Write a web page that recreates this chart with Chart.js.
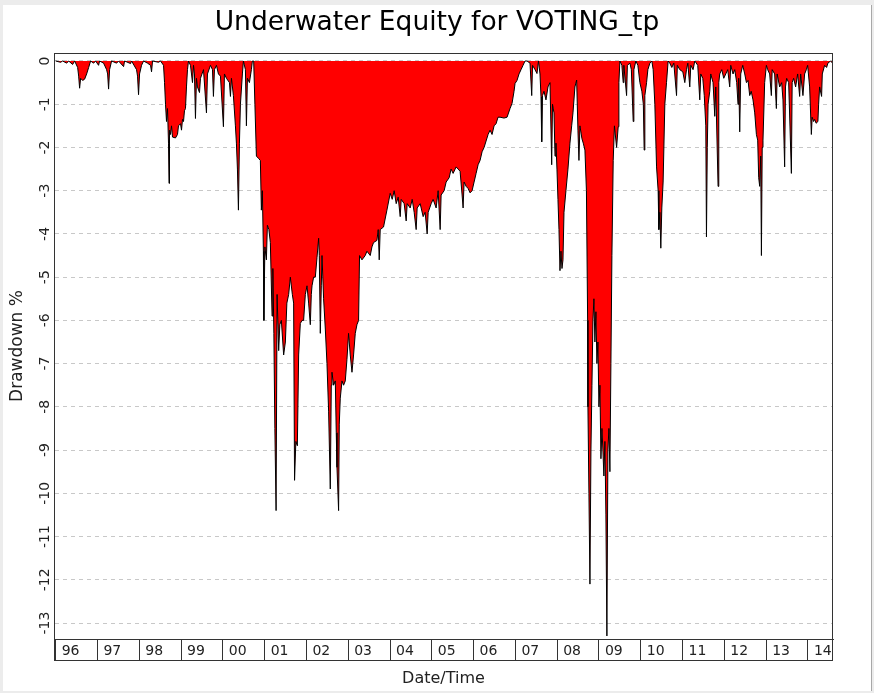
<!DOCTYPE html>
<html>
<head>
<meta charset="utf-8">
<title>Underwater Equity</title>
<script src="https://cdn.jsdelivr.net/npm/chart.js@4"></script>
<style>
  html, body { margin: 0; padding: 0; background: #ececec; }
  #panel { position: absolute; left: 3px; top: 5px; width: 868px; height: 686px; background: #fff; border-right: 1px solid #a8a8a8; }
  canvas { display: block; }
</style>
</head>
<body>
<div id="panel"><canvas id="underwaterChart" width="868" height="686"></canvas></div>
<script>
const yearTicks = [1996,1997,1998,1999,2000,2001,2002,2003,2004,2005,2006,2007,2008,2009,2010,2011,2012,2013,2014];
const yearLabels = ['96','97','98','99','00','01','02','03','04','05','06','07','08','09','10','11','12','13','14'];
const drawdownTicks = [0,-1,-2,-3,-4,-5,-6,-7,-8,-9,-10,-11,-12,-13];

// decimal year of each sample
const dates = [
  1996.000,1996.119,1996.167,1996.263,1996.311,1996.406,1996.454,1996.526,1996.550,1996.573,
  1996.597,1996.645,1996.693,1996.741,1996.789,1996.836,1996.908,1996.956,1997.027,1997.051,
  1997.147,1997.219,1997.243,1997.266,1997.290,1997.338,1997.458,1997.505,1997.625,1997.649,
  1997.792,1997.816,1997.935,1997.959,1997.983,1998.007,1998.055,1998.103,1998.198,1998.270,
  1998.294,1998.318,1998.461,1998.509,1998.581,1998.605,1998.628,1998.652,1998.676,1998.700,
  1998.712,1998.724,1998.748,1998.772,1998.796,1998.867,1998.915,1998.939,1998.987,1999.011,
  1999.035,1999.059,1999.082,1999.106,1999.130,1999.154,1999.178,1999.226,1999.274,1999.298,
  1999.321,1999.345,1999.369,1999.393,1999.441,1999.465,1999.537,1999.608,1999.632,1999.704,
  1999.752,1999.775,1999.799,1999.847,1999.895,1999.943,2000.014,2000.038,2000.086,2000.158,
  2000.182,2000.206,2000.253,2000.301,2000.325,2000.349,2000.373,2000.397,2000.421,2000.468,
  2000.492,2000.540,2000.564,2000.588,2000.636,2000.683,2000.707,
  2000.738,2000.767,2000.803,2000.851,2000.898,2000.922,2000.946,2000.970,2000.982,2001.006,
  2001.042,2001.066,2001.102,2001.137,2001.178,2001.197,2001.221,2001.245,2001.274,2001.298,
  2001.336,2001.364,2001.400,2001.455,2001.496,2001.532,2001.575,2001.615,2001.663,2001.694,
  2001.716,2001.747,2001.783,2001.814,2001.854,2001.895,2001.933,2001.974,2002.014,2002.053,
  2002.093,2002.117,2002.134,2002.172,2002.213,2002.253,2002.292,2002.308,2002.332,2002.356,
  2002.373,2002.411,2002.452,2002.492,2002.531,2002.571,2002.595,2002.612,2002.650,2002.691,
  2002.714,2002.731,2002.770,2002.786,2002.810,2002.851,2002.889,2002.930,2002.970,2003.008,
  2003.049,2003.090,2003.128,2003.169,2003.209,2003.248,2003.271,2003.329,2003.407,2003.448,
  2003.527,2003.568,2003.606,2003.687,2003.718,2003.742,2003.766,2003.845,2003.926,2004.005,
  2004.053,2004.100,2004.148,2004.196,2004.244,2004.268,2004.339,2004.387,2004.411,2004.483,
  2004.531,2004.578,2004.626,2004.650,2004.722,2004.793,2004.841,2004.889,2004.913,2004.985,
  2005.032,2005.104,2005.152,2005.200,2005.223,2005.295,2005.343,2005.415,2005.462,2005.510,
  2005.582,2005.630,2005.677,2005.725,2005.749,2005.773,2005.821,2005.869,2005.916,2005.964,
  2006.012,2006.060,2006.108,2006.155,2006.203,2006.251,2006.299,2006.347,2006.394,2006.442,
  2006.490,2006.538,2006.585,2006.633,2006.729,2006.801,2006.872,2006.920,2006.968,2006.992,
  2007.039,2007.087,2007.135,2007.183,2007.231,
  2007.278,2007.350,2007.391,2007.410,2007.470,2007.517,2007.553,2007.589,2007.613,2007.630,
  2007.649,2007.685,2007.732,2007.780,2007.828,2007.869,2007.888,2007.924,2007.948,2007.971,
  2007.995,2008.019,2008.043,2008.067,2008.091,2008.115,2008.139,2008.163,2008.210,2008.258,
  2008.306,2008.347,2008.378,2008.425,2008.466,2008.497,2008.521,2008.545,2008.593,2008.624,
  2008.664,2008.700,2008.729,2008.736,2008.760,2008.784,2008.808,2008.832,2008.856,2008.879,
  2008.903,2008.927,2008.951,2008.975,2008.999,2009.023,2009.047,2009.071,2009.094,2009.118,
  2009.142,2009.166,2009.190,2009.214,2009.238,2009.262,2009.286,2009.310,2009.341,2009.370,
  2009.422,2009.460,2009.477,2009.501,
  2009.548,2009.580,2009.596,2009.661,2009.680,2009.740,2009.775,2009.819,2009.835,2009.883,
  2009.931,2009.979,2010.026,2010.062,2010.081,2010.098,2010.139,2010.170,2010.218,2010.265,
  2010.297,2010.337,2010.378,2010.416,2010.433,2010.456,2010.480,2010.504,2010.535,2010.576,
  2010.616,2010.655,2010.695,2010.743,2010.791,2010.856,2010.875,2010.934,2011.006,2011.054,
  2011.094,2011.126,2011.173,2011.197,2011.252,2011.293,2011.364,2011.412,2011.436,2011.484,
  2011.520,2011.556,2011.572,2011.592,2011.611,2011.651,2011.675,2011.730,2011.771,2011.795,
  2011.850,2011.867,2011.890,2011.938,2011.986,2012.034,2012.081,2012.129,2012.153,2012.208,
  2012.249,2012.296,2012.327,2012.344,2012.368,2012.392,2012.440,2012.488,2012.528,2012.567,
  2012.607,2012.643,2012.686,2012.727,2012.767,2012.798,2012.822,2012.846,2012.870,2012.887,
  2012.906,2012.925,2012.965,2013.006,2013.037,2013.085,2013.125,2013.145,2013.204,2013.245,
  2013.264,2013.324,2013.372,2013.403,2013.443,2013.463,2013.491,2013.539,2013.604,2013.623,
  2013.658,2013.706,2013.754,2013.802,2013.826,2013.881,2013.921,2013.962,2013.993,2014.041,
  2014.082,2014.101,2014.136,2014.160,2014.196,2014.239,2014.256,2014.280,2014.327,2014.344,
  2014.399,2014.447,2014.478,2014.543,2014.590
];

// drawdown from the running equity peak, in %
const drawdown = [
  0,-0.03,0,-0.05,0,-0.08,0,-0.15,-0.35,-0.63,
  -0.4,-0.45,-0.42,-0.3,-0.15,0,-0.05,0,-0.1,0,
  -0.05,-0.2,-0.3,-0.65,-0.2,0,-0.05,0,-0.13,0,
  -0.06,0,-0.2,-0.35,-0.78,-0.3,-0.1,0,-0.05,-0.1,
  -0.25,0,-0.03,0,-0.1,-0.5,-1.0,-1.4,-1.1,-1.9,
  -2.83,-1.6,-1.7,-1.5,-1.76,-1.78,-1.7,-1.5,-1.45,-1.6,
  -1.35,-1.4,-1.15,-1.1,-0.6,-0.2,0,-0.1,-0.5,-0.1,
  -0.3,-1.33,-0.4,-0.6,-0.73,-0.4,-0.2,-1.2,-0.3,-0.1,
  -0.2,-0.82,-0.2,-0.1,-0.3,-0.35,-1.52,-0.3,-0.4,-0.5,
  -0.82,-0.4,-0.8,-1.5,-1.9,-2.5,-3.45,-1.9,-1.0,-0.3,
  0,-0.2,-1.5,-0.4,-0.5,-0.2,0,
  0,-1.0,-2.2,-2.25,-2.3,-3.45,-3.0,-4.4,-6.0,-4.3,
  -4.6,-3.8,-3.9,-4.2,-5.9,-4.8,-6.3,-8.5,-10.4,-5.4,
  -6.7,-6.1,-6.0,-6.8,-6.5,-5.6,-5.4,-5.0,-5.4,-5.6,
  -9.7,-8.8,-8.9,-6.8,-6.07,-6.0,-6.0,-5.4,-5.2,-5.6,
  -6.1,-5.4,-5.2,-5.0,-5.0,-4.55,-4.1,-4.5,-6.3,-5.2,
  -4.5,-5.5,-6.2,-7.0,-8.1,-9.9,-7.5,-7.2,-7.5,-7.4,
  -8.6,-9.4,-10.4,-8.4,-7.8,-7.4,-7.5,-7.4,-6.9,-6.3,
  -6.8,-7.2,-6.8,-6.3,-6.1,-6.0,-4.5,-4.6,-4.5,-4.4,
  -4.5,-4.3,-4.2,-4.15,-3.9,-4.6,-3.9,-3.84,-3.45,-3.06,
  -3.2,-3.0,-3.3,-3.15,-3.6,-3.2,-3.3,-3.7,-3.3,-3.4,
  -3.2,-3.5,-3.9,-3.4,-3.3,-3.6,-3.5,-4.0,-3.5,-3.3,
  -3.2,-3.4,-3.0,-3.9,-3.1,-3.0,-2.8,-2.7,-2.5,-2.6,
  -2.45,-2.5,-2.55,-3.1,-3.4,-2.8,-2.9,-2.95,-3.05,-3.0,
  -2.8,-2.6,-2.4,-2.3,-2.1,-2.0,-1.85,-1.7,-1.6,-1.7,
  -1.5,-1.45,-1.3,-1.3,-1.32,-1.3,-1.1,-0.98,-0.7,-0.52,
  -0.45,-0.3,-0.2,-0.1,0,
  0,-0.05,-0.8,-0.1,-0.2,-0.29,0,-0.3,-0.83,-1.87,
  -0.8,-0.7,-0.9,-0.6,-0.5,-2.4,-1.0,-1.2,-2.2,-1.9,
  -2.5,-3.2,-3.9,-4.85,-4.4,-4.8,-4.6,-3.5,-3.0,-2.5,
  -1.9,-1.5,-1.2,-0.6,-0.44,-1.6,-2.3,-1.5,-1.8,-1.9,
  -2.06,-3.0,-6.0,-8.0,-10.0,-12.1,-9.0,-7.5,-6.0,-5.5,
  -6.5,-5.8,-7.0,-6.5,-8.0,-7.5,-9.2,-8.5,-9.0,-9.6,
  -8.8,-10.5,-13.3,-9.0,-8.5,-9.5,-7.0,-4.5,-2.3,-1.5,
  -2.0,-1.52,-0.5,0,
  -0.1,-0.5,-0.1,-0.8,-0.1,-0.05,-0.2,-1.4,-0.2,0,
  -0.1,-0.5,-0.7,-1.0,-2.06,-0.8,-0.5,-0.2,-0.05,0,
  -0.2,-1.0,-2.45,-3.0,-3.9,-3.5,-4.33,-3.4,-2.8,-1.0,
  -0.5,0,-0.05,-0.15,-0.05,-0.8,-0.1,-0.2,-0.25,-0.5,
  -0.2,-0.05,-0.6,-0.1,-0.2,0,-0.1,-0.9,-0.3,-0.4,
  -0.8,-1.5,-4.07,-2.0,-1.0,-0.7,-0.3,-0.5,-1.28,-0.6,
  -2.9,-0.5,-0.3,-0.2,-0.4,-0.3,-0.2,-0.6,-0.1,-0.3,
  -0.2,-0.5,-1.0,-0.4,-1.64,-0.3,-0.1,-0.3,-0.5,-0.45,
  -0.8,-0.7,-0.9,-1.2,-1.7,-1.83,-2.7,-2.9,-2.2,-4.5,
  -2.0,-1.83,-0.5,-0.1,-0.2,-0.3,-0.8,-0.2,-0.3,-1.1,
  -0.3,-0.6,-0.5,-0.9,-2.45,-0.6,-0.4,-0.5,-2.6,-0.5,
  -0.4,-0.6,-0.3,-0.82,-0.3,-0.8,-0.3,-0.2,-0.1,-0.6,
  -1.7,-1.3,-1.4,-1.35,-1.44,-1.4,-1.0,-0.6,-0.82,-0.3,
  -0.1,-0.15,-0.05,0,-0.05
];

const boxRow = 21;

// outer box of the plot plus the row of year cells under it
const framePlugin = {
  id: 'frame',
  afterDraw(chart) {
    const {ctx, chartArea: a} = chart;
    const l = Math.round(a.left) + 0.5;
    const r = Math.round(a.right) - 0.5;
    const t = Math.round(a.top) + 0.5;
    const b = Math.round(a.bottom + boxRow) + 0.5;
    ctx.save();
    ctx.strokeStyle = '#333';
    ctx.lineWidth = 1;
    ctx.strokeRect(l, t, r - l, b - t);
    ctx.restore();
  }
};

// y tick labels turned to read upwards, as in the original
const yLabelPlugin = {
  id: 'yLabels',
  afterDraw(chart) {
    const {ctx} = chart;
    const s = chart.scales.y;
    ctx.save();
    ctx.font = '14px "DejaVu Sans"';
    ctx.fillStyle = '#222';
    ctx.textAlign = 'center';
    ctx.textBaseline = 'middle';
    s.ticks.forEach(t => {
      ctx.save();
      ctx.translate(s.right - 9, s.getPixelForValue(t.value));
      ctx.rotate(-Math.PI / 2);
      ctx.fillText(String(t.value), 0, 0);
      ctx.restore();
    });
    ctx.restore();
  }
};

Chart.defaults.font.family = 'DejaVu Sans';
Chart.defaults.color = '#222';

new Chart('underwaterChart', {
  type: 'line',
  data: {
    datasets: [{
      label: 'Drawdown',
      data: dates.map((d, i) => ({x: d, y: drawdown[i]})),
      borderColor: '#000',
      borderWidth: 1,
      backgroundColor: '#ff0000',
      fill: 'origin',
      pointRadius: 0,
      tension: 0
    }]
  },
  options: {
    responsive: false,
    animation: false,
    devicePixelRatio: 1,
    layout: { padding: 0 },
    scales: {
      x: {
        type: 'linear',
        min: 1995.96,
        max: 2014.6,
        afterBuildTicks: s => { s.ticks = yearTicks.map(v => ({value: v})); },
        afterFit: s => { s.height = 52; },
        grid: { drawOnChartArea: false, drawTicks: true, tickLength: boxRow, color: '#333' },
        border: { display: true, color: '#333' },
        ticks: {
          autoSkip: false,
          maxRotation: 0,
          align: 'start',
          labelOffset: 6,
          padding: -17,
          font: { size: 14 },
          callback: (v, i) => yearLabels[i]
        },
        title: {
          display: true,
          text: 'Date/Time',
          color: '#222',
          font: { size: 16 },
          padding: { top: 0, bottom: 3 }
        }
      },
      y: {
        type: 'linear',
        min: -13.37,
        max: 0.185,
        afterBuildTicks: s => { s.ticks = drawdownTicks.map(v => ({value: v})); },
        afterFit: s => { s.width = 51; },
        grid: { color: '#c8c8c8', drawTicks: false },
        border: { display: true, color: '#333', dash: [4, 4] },
        ticks: { display: false },
        title: {
          display: true,
          text: 'Drawdown %',
          color: '#222',
          font: { size: 17 },
          padding: { top: 4, bottom: 0 }
        }
      },
      yRight: {
        type: 'linear',
        position: 'right',
        min: -13.37,
        max: 0.185,
        afterFit: s => { s.width = 38; },
        grid: { display: false, drawTicks: false },
        border: { display: false },
        ticks: { display: false }
      }
    },
    plugins: {
      legend: { display: false },
      tooltip: { enabled: false },
      title: {
        display: true,
        text: 'Underwater Equity for VOTING_tp',
        color: '#000',
        font: { size: 26.5, weight: 'normal' },
        padding: { top: 2.5, bottom: 13.7 }
      }
    }
  },
  plugins: [framePlugin, yLabelPlugin]
});
</script>
</body>
</html>
